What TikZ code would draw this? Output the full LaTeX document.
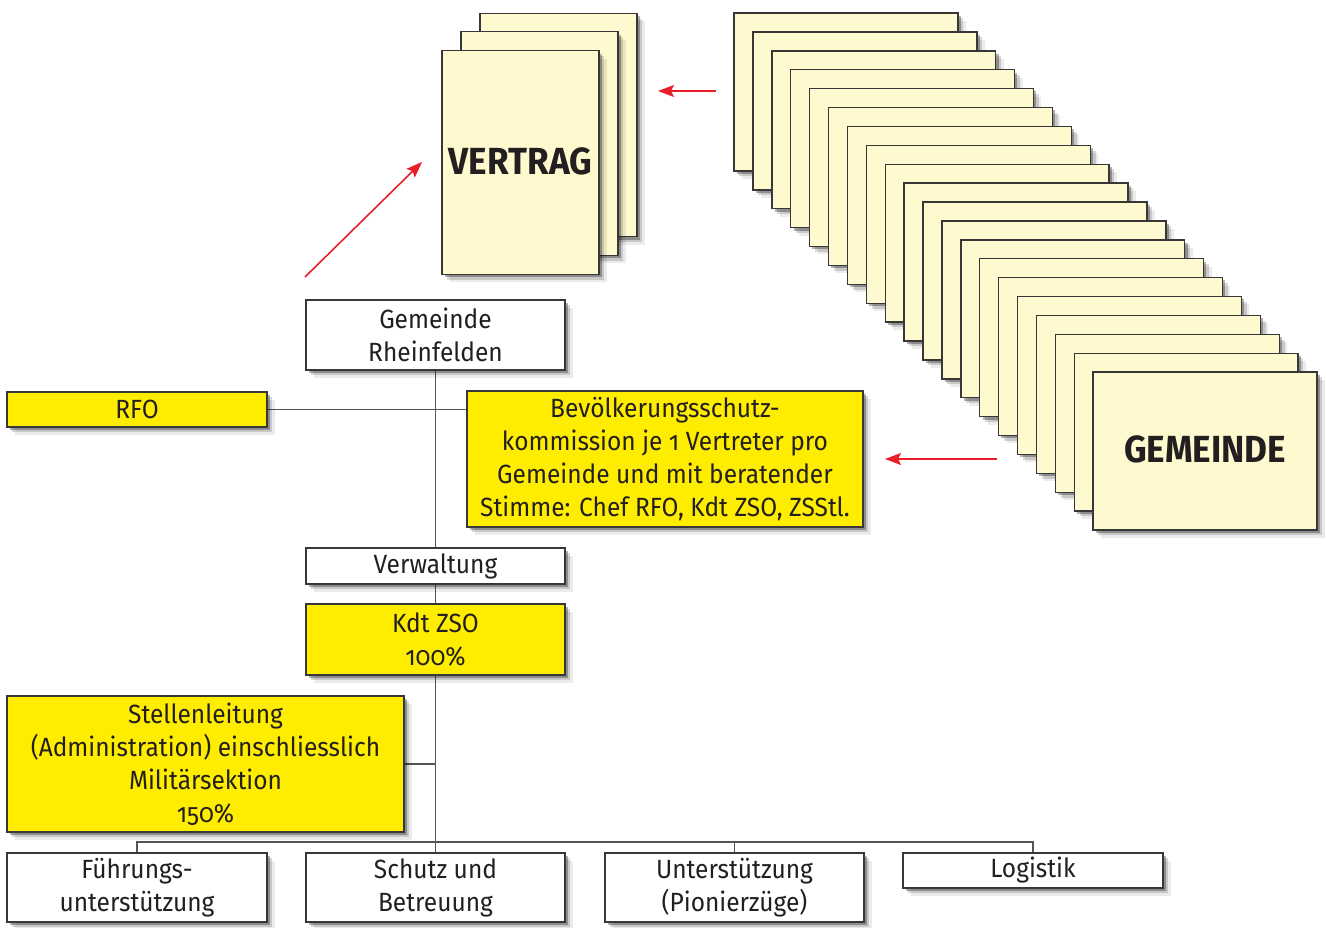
\documentclass[tikz,border=0pt]{standalone}
\usepackage{fontspec}
\setmainfont{Fira Sans}[RawFeature=+onum,FakeStretch=0.93]
\usetikzlibrary{arrows.meta,shadows}
\definecolor{ybox}{RGB}{255,237,0}
\definecolor{paper}{RGB}{255,249,208}
\definecolor{bord}{RGB}{55,55,55}
\definecolor{txt}{RGB}{35,31,32}
\definecolor{lin}{RGB}{85,85,85}
\definecolor{arr}{RGB}{232,30,40}
\pgfdeclarelayer{bg}\pgfsetlayers{bg,main}
\begin{document}
\begin{tikzpicture}[x=0.02cm,y=-0.02cm,
 softshadow/.style={general shadow={shadow xshift=4.5pt,shadow yshift=-4.5pt,fill=black,opacity=.08},
   general shadow={shadow xshift=3pt,shadow yshift=-3pt,fill=black,opacity=.15},
   general shadow={shadow xshift=1.6pt,shadow yshift=-1.6pt,fill=black,opacity=.3}},
 box/.style={draw=bord,line width=0.8pt,fill=white,softshadow,inner sep=0pt,align=center,text=txt,font=\fontsize{15}{18.7}\selectfont},
 ybx/.style={box,fill=ybox},
 page/.style={draw=bord,line width=0.8pt,fill=paper,softshadow,inner sep=0pt,text=txt},
 bigtext/.style={font=\fontsize{21.5}{26}\selectfont\bfseries},
 conn/.style={draw=lin,line width=0.8pt},
 redarrow/.style={draw=arr,line width=0.9pt,-{Stealth[length=0.32cm,width=0.24cm,inset=0.06cm]}}]
\useasboundingbox (0,0) rectangle (1326,927);
% VERTRAG stack
\node[page,minimum width=3.14cm,minimum height=4.47cm] (v3) at (558.5,125) {};
\node[page,minimum width=3.14cm,minimum height=4.47cm] (v2) at (539.5,143.5) {};
\node[page,bigtext,minimum width=3.14cm,minimum height=4.47cm] (v1) at (520.5,162.5) {\raisebox{2pt}{VERTRAG}};
% GEMEINDE stack
\foreach \i in {0,...,18}
  \node[page,minimum width=4.48cm,minimum height=3.16cm] (g\i) at ({846+18.9*\i},{92+18.9*\i}) {};
\node[page,bigtext,minimum width=4.48cm,minimum height=3.16cm] (g19) at (1205.1,451.1) {\raisebox{2pt}{GEMEINDE}};
% org chart
\node[box,minimum width=5.18cm,minimum height=1.40cm] (gem) at (435.5,335) {Gemeinde\\Rheinfelden};
\node[ybx,minimum width=5.2cm,minimum height=0.70cm] (rfo) at (137,409.5) {RFO};
\node[ybx,minimum width=7.92cm,minimum height=2.72cm] (bev) at (665,459) {Bevölkerungsschutz-\\kommission je 1 Vertreter pro\\Gemeinde und mit beratender\\Stimme:  Chef RFO, Kdt ZSO, ZSStl.};
\node[box,minimum width=5.18cm,minimum height=0.72cm] (verw) at (435.5,566) {Verwaltung};
\node[ybx,minimum width=5.18cm,minimum height=1.42cm] (kdt) at (435.5,639.5) {Kdt ZSO\\100\%};
\node[ybx,minimum width=7.94cm,minimum height=2.72cm] (stel) at (205.5,764) {Stellenleitung\\(Administration) einschliesslich\\Militärsektion\\150\%};
\node[box,minimum width=5.2cm,minimum height=1.38cm] (fuehr) at (137,887.5) {Führungs-\\unterstützung};
\node[box,minimum width=5.18cm,minimum height=1.38cm] (schutz) at (435.5,887.5) {Schutz und\\Betreuung};
\node[box,minimum width=5.18cm,minimum height=1.38cm] (unter) at (734.5,887.5) {Unterstützung\\(Pionierzüge)};
\node[box,minimum width=5.2cm,minimum height=0.70cm] (log) at (1033,870.5) {Logistik};
\coordinate (bus) at (435.5,842);
\begin{pgfonlayer}{bg}
\draw[conn] (gem.south) -- (schutz.north);
\draw[conn] (rfo.east) -- (rfo.east -| bev.west);
\draw[conn] (stel.east) -- (stel.east -| gem.south);
\draw[conn] (fuehr.north) |- (bus) -| (log.north);
\draw[conn] (unter.north) -- (unter.north |- bus);
\end{pgfonlayer}
% red arrows
\coordinate (a1s) at (716,91);
\coordinate (a1e) at (658,91);
\coordinate (a2s) at (997,459);
\coordinate (a2e) at (885,459);
\coordinate (a3s) at (305,277);
\coordinate (a3e) at (422,162);
\draw[redarrow] (a1s) -- (a1e);
\draw[redarrow] (a2s) -- (a2e);
\draw[redarrow] (a3s) -- (a3e);
\end{tikzpicture}
\end{document}
